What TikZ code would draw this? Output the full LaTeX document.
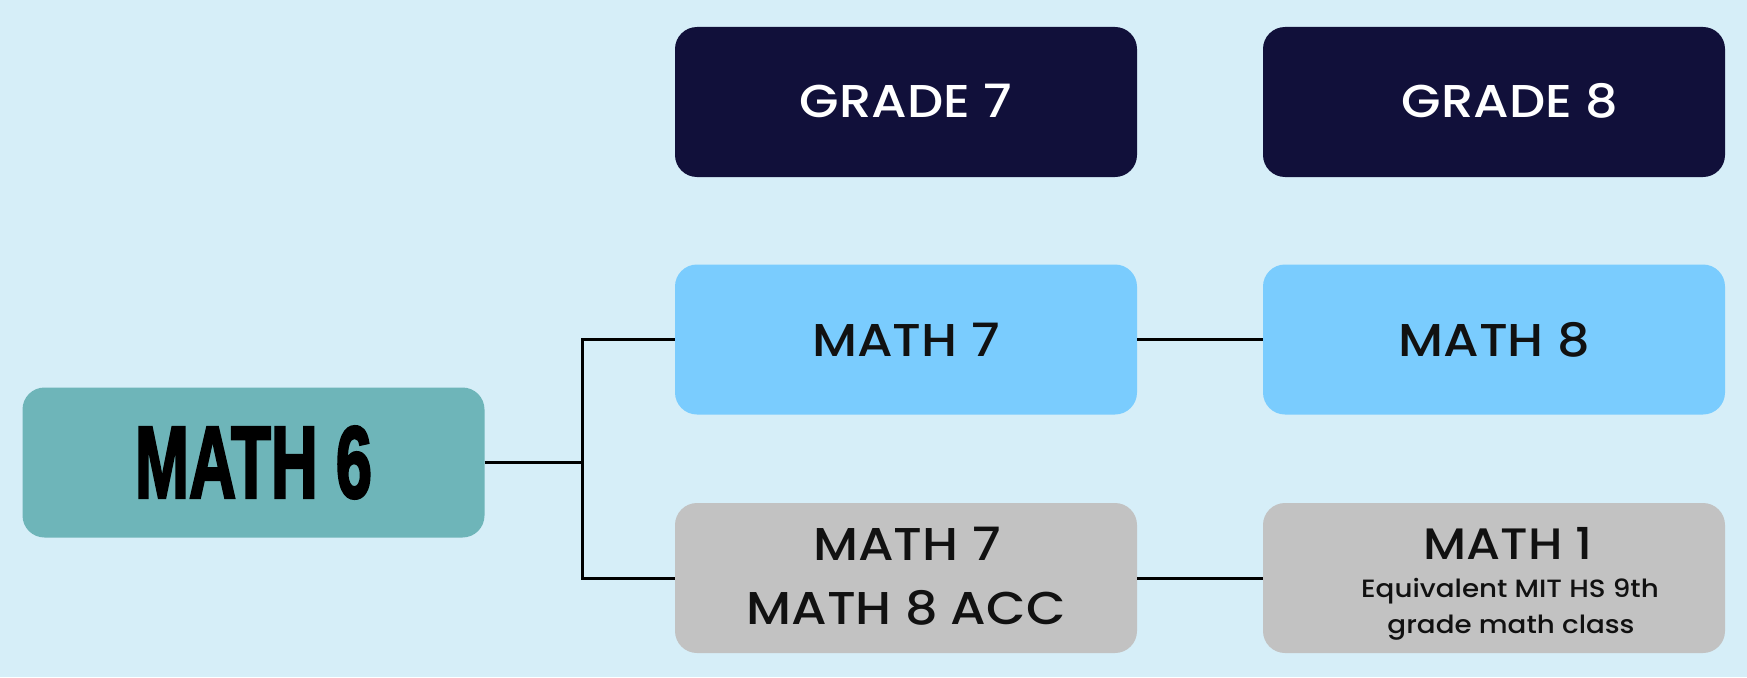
\documentclass[tikz,border=0pt]{standalone}
\usepackage{fontspec}
\setmainfont{Poppins}[UprightFont=* Medium, BoldFont=* SemiBold, FakeStretch=1.11]
\newfontfamily\condfont{Liberation Sans}[UprightFont=* Bold, FakeBold=3]
\definecolor{bgc}{HTML}{D6EEF8}
\definecolor{navy}{HTML}{11103A}
\definecolor{lblue}{HTML}{7ACCFE}
\definecolor{grayb}{HTML}{C2C2C2}
\definecolor{teal6}{HTML}{6EB5B9}
\definecolor{ink}{HTML}{111111}
\tikzset{
  box/.style={rectangle, rounded corners=22pt, minimum width=462pt, minimum height=150pt, inner sep=0pt},
  gradebox/.style={box, fill=navy, text=white, font=\fontsize{46pt}{50pt}\selectfont},
  bluebox/.style={box, fill=lblue, text=ink, font=\fontsize{46pt}{50pt}\selectfont},
  graybox/.style={box, fill=grayb, text=ink},
  bigtxt/.style={inner sep=0pt, anchor=base, text=ink, font=\fontsize{46pt}{50pt}\selectfont},
  smalltxt/.style={inner sep=0pt, anchor=base, text=ink, font=\fontsize{25pt}{28pt}\selectfont},
  conn/.style={draw=black, line width=3pt},
}
\begin{document}
\begin{tikzpicture}[x=1pt,y=-1pt]
\fill[bgc] (0,0) rectangle (1747,677);
\useasboundingbox (0,0) rectangle (1747,677);

\node[gradebox] (g7) at (906,102) {\raisebox{3pt}{GRADE 7}};
\node[gradebox] (g8) at (1494,102) {\hspace*{32pt}\raisebox{3pt}{GRADE 8}};
\node[bluebox] (m7) at (906,339.5) {MATH 7};
\node[bluebox] (m8) at (1494,339.5) {MATH 8};
\node[graybox] (acc) at (906,578) {};
\node[graybox] (m1) at (1494,578) {};
\node[box, fill=teal6] (m6) at (253.5,462.5)
  {\resizebox{237pt}{71pt}{\condfont MATH 6}};

\node[bigtxt] (acc1) at (907,560) {MATH 7};
\node[bigtxt] (acc2) at (906,624) {MATH 8 ACC};
\node[bigtxt, font=\fontsize{44pt}{48pt}\selectfont] (m1a) at (1508,559) {MATH 1};
\node[smalltxt] (m1b) at (1510,597) {Equivalent MIT HS 9th};
\node[smalltxt] (m1c) at (1511,633) {grade math class};

\coordinate (jn) at (582,462.5);
\draw[conn] (m6.east) -- (jn);
\draw[conn] (m7.west) -| (jn) |- (acc.west);
\draw[conn] (m7.east) -- (m8.west);
\draw[conn] (acc.east) -- (m1.west);
\end{tikzpicture}
\end{document}
